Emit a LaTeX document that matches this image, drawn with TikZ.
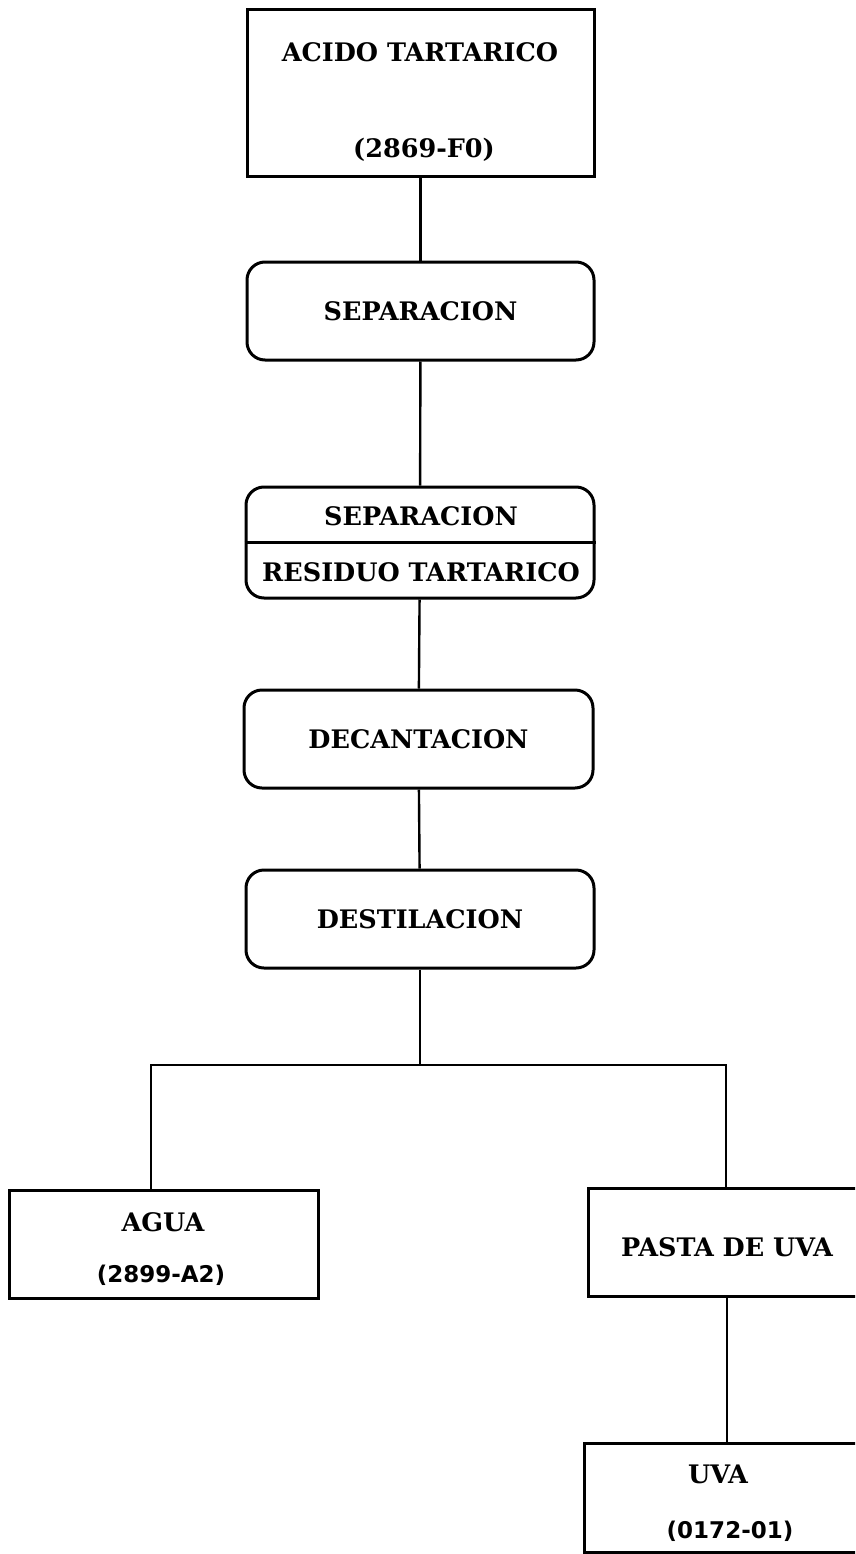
\documentclass[tikz,border=0pt]{standalone}
\usepackage{fontspec}
\setmainfont{DejaVu Serif}
\newfontfamily\codefont{DejaVu Sans}
\usetikzlibrary{calc}
\begin{document}
\begin{tikzpicture}[x=1pt, y=-1pt,
  box/.style={draw, line width=3pt, rectangle, inner sep=0pt},
  rbox/.style={draw, line width=3pt, rectangle, rounded corners=18pt, inner sep=0pt,
    font=\bfseries\fontsize{25.5}{28}\selectfont},
  lbl/.style={inner sep=0pt, font=\bfseries\fontsize{25.5}{28}\selectfont},
  code/.style={inner sep=0pt, font=\codefont\bfseries\fontsize{23}{26}\selectfont},
  link/.style={line width=2.4pt}]
\useasboundingbox (0,0) rectangle (855,1554);
\clip (0,0) rectangle (855,1554);
\fill[white] (0,0) rectangle (855,1554);

% product boxes and process steps
\node[box, minimum width=347pt, minimum height=167pt] (acido) at (420.5,93.5) {};
\node[lbl] (acidoName) at (420,52) {ACIDO TARTARICO};
\node[lbl] (acidoCode) at (424,150) {(2869-F0)};

\node[rbox, minimum width=347pt, minimum height=98pt] (sep1) at (420.5,311) {SEPARACION};

\node[rbox, minimum width=348pt, minimum height=111pt] (sep2) at (420,542.5) {};
\draw[line width=3pt] (sep2.west) -- (sep2.east);
\node[lbl] (sep2Top) at (421,516) {SEPARACION};
\node[lbl] (sep2Bot) at (421,572) {RESIDUO TARTARICO};

\node[rbox, minimum width=349pt, minimum height=98pt] (dec) at (418.5,739) {DECANTACION};
\node[rbox, minimum width=348pt, minimum height=98pt] (dest) at (420,919) {DESTILACION};

\node[box, minimum width=309pt, minimum height=108pt] (agua) at (163.5,1244) {};
\node[lbl] (aguaName) at (163,1222) {AGUA};
\node[code] (aguaCode) at (161,1275) {(2899-A2)};

\node[box, minimum width=278pt, minimum height=108pt] (pasta) at (727,1242) {};
\node[lbl] (pastaName) at (727,1247) {PASTA DE UVA};

\node[box, minimum width=286pt, minimum height=109pt] (uva) at (727,1497.5) {};
\node[lbl] (uvaName) at (718,1474) {UVA};
\node[code] (uvaCode) at (730,1531) {(0172-01)};

% connectors
\coordinate (forkL) at (151,1065);
\coordinate (forkR) at (726,1065);
\draw[link] (acido) -- (sep1);
\draw[link] (sep1) -- (sep2);
\draw[link] (sep2) -- (dec);
\draw[link] (dec) -- (dest);
\draw[link] (dest) -- (dest |- forkL);
\draw[link, line cap=rect] (forkL) -- (forkR);
\draw[link] (forkL) -- (agua.north -| forkL);
\draw[link] (forkR) -- (pasta.north -| forkR);
\draw[link] (pasta) -- (uva);
\end{tikzpicture}
\end{document}
